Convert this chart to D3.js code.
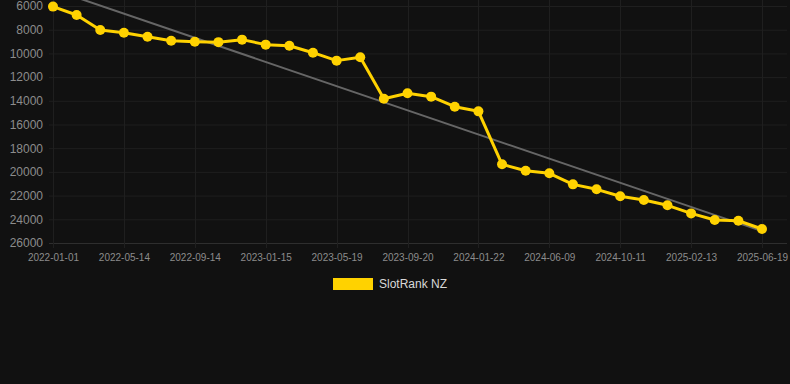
<!DOCTYPE html>
<html>
<head>
<meta charset="utf-8">
<script src="https://cdn.jsdelivr.net/npm/d3@7"></script>
<style>
html, body { margin: 0; padding: 0; background: #111111; }
svg { display: block; font-family: "Liberation Sans", Arial, Helvetica, sans-serif; }
</style>
</head>
<body>
<div id="chart"></div>
<script>
'use strict'

// categories (only every third one is labelled on the axis)
var dates = ["2022-01-01","2022-02-14","2022-03-30","2022-05-14","2022-06-24","2022-08-04",
	"2022-09-14","2022-10-25","2022-12-05","2023-01-15","2023-02-25","2023-04-08",
	"2023-05-19","2023-06-29","2023-08-10","2023-09-20","2023-10-31","2023-12-12",
	"2024-01-22","2024-03-07","2024-04-24","2024-06-09","2024-07-20","2024-08-31",
	"2024-10-11","2024-11-21","2025-01-02","2025-02-13","2025-03-27","2025-05-08","2025-06-19"]

var rankNZ = [6050, 6760, 8030, 8250, 8590, 8930, 9010, 9050, 8840, 9260, 9350, 9940,
	10610, 10330, 13820, 13370, 13650, 14500, 14890, 19360, 19900, 20120, 21050, 21470,
	22060, 22370, 22820, 23500, 24060, 24120, 24820]

var yTicks = [6000, 8000, 10000, 12000, 14000, 16000, 18000, 20000, 22000, 24000, 26000]
var seriesName = "SlotRank NZ"

var W = 790, H = 384
var margins = {top : 6, bottom : 141, left : 53, right : 28}
var plotBottom = H - margins.bottom

var svg = d3.select("#chart").append("svg")
	.attr("width", W)
	.attr("height", H)

svg.append("rect").attr("width", W).attr("height", H).attr("fill", "#111111")

var x = d3.scalePoint()
	.domain(dates)
	.range([margins.left, W - margins.right])

var y = d3.scaleLinear()
	.domain([6000, 26000])
	.range([margins.top, plotBottom])

var labelled = dates.filter(function(d, i){ return i % 3 == 0 })

// grid
var grid = svg.append("g")
grid.selectAll(".hgrid")
	.data(yTicks)
	.enter().append("line")
	.attr("x1", margins.left - 4)
	.attr("x2", 787)
	.attr("y1", function(d){ return y(d) + 0.5 })
	.attr("y2", function(d){ return y(d) + 0.5 })
	.attr("stroke", function(d){ return d == 26000 ? "#2e2e2e" : "#1f1f1f" })
	.attr("stroke-width", 1)

grid.selectAll(".vgrid")
	.data(labelled)
	.enter().append("line")
	.attr("x1", function(d){ return Math.round(x(d)) + 0.5 })
	.attr("x2", function(d){ return Math.round(x(d)) + 0.5 })
	.attr("y1", 0)
	.attr("y2", plotBottom + 5)
	.attr("stroke", "#1f1f1f")
	.attr("stroke-width", 1)

// y axis labels
var yAxis = svg.append("g")
	.attr("transform", "translate(" + (margins.left - 10) + ",0)")
	.call(d3.axisLeft(y).tickValues(yTicks).tickSize(0).tickPadding(0).tickFormat(d3.format("d")))
yAxis.select(".domain").remove()
yAxis.selectAll("text")
	.attr("fill", "#8c8c8c")
	.style("font-size", "12px")

// x axis labels
var xAxis = svg.append("g")
	.attr("transform", "translate(0," + plotBottom + ")")
	.call(d3.axisBottom(x).tickValues(labelled).tickSize(0).tickPadding(11))
xAxis.select(".domain").remove()
xAxis.selectAll("text")
	.attr("fill", "#8c8c8c")
	.style("font-size", "10px")

// trend line (least squares over the series)
var n = rankNZ.length
var mx = d3.mean(rankNZ, function(d, i){ return i })
var my = d3.mean(rankNZ)
var sxy = 0, sxx = 0
rankNZ.forEach(function(v, i){
	sxy += (i - mx) * (v - my)
	sxx += (i - mx) * (i - mx)
})
var slope = sxy / sxx
var icpt = my - slope * mx

svg.append("line")
	.attr("x1", x(dates[0]))
	.attr("y1", y(icpt))
	.attr("x2", x(dates[n - 1]))
	.attr("y2", y(icpt + slope * (n - 1)))
	.attr("stroke", "#666666")
	.attr("stroke-width", 2)

// series
var pts = rankNZ.map(function(v, i){ return {date : dates[i], value : v} })

svg.append("path")
	.datum(pts)
	.attr("fill", "none")
	.attr("stroke", "#ffd200")
	.attr("stroke-width", 3)
	.attr("stroke-linejoin", "round")
	.attr("d", d3.line()
		.x(function(d){ return x(d.date) })
		.y(function(d){ return y(d.value) }))

svg.selectAll(".dot")
	.data(pts)
	.enter().append("circle")
	.attr("class", "dot")
	.attr("cx", function(d){ return x(d.date) })
	.attr("cy", function(d){ return y(d.value) })
	.attr("r", 5)
	.attr("fill", "#ffd200")

// legend
var legend = svg.append("g").attr("transform", "translate(333,278)")
legend.append("rect")
	.attr("width", 40)
	.attr("height", 12)
	.attr("fill", "#ffd200")
legend.append("text")
	.attr("x", 46)
	.attr("y", 6)
	.attr("dy", "0.35em")
	.attr("fill", "#d9d9d9")
	.style("font-size", "12px")
	.text(seriesName)
</script>
</body>
</html>
